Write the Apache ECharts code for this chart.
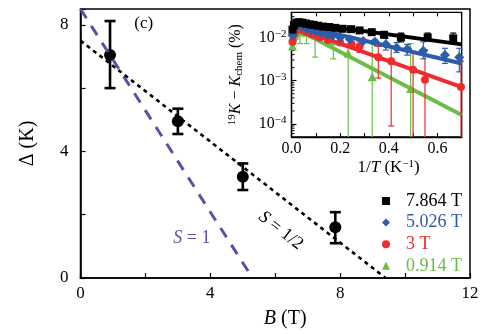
<!DOCTYPE html>
<html>
<head>
<meta charset="utf-8">
<script src="https://cdn.jsdelivr.net/npm/echarts@6/dist/echarts.min.js"></script>
<style>
  html, body { margin: 0; padding: 0; background: #fff; }
  #chart { width: 500px; height: 334px; }
</style>
</head>
<body>
<div id="chart"></div>
<script>
// ---- main panel: gap vs field ----
const fieldB = [0.91, 3.0, 5.0, 7.85];
const gapDelta = [7.05, 4.95, 3.2, 1.6];
const gapLow = [6.0, 4.55, 2.78, 1.1];
const gapHigh = [8.12, 5.35, 3.62, 2.08];
const lineHalf = [[0, 7.5], [9.4, 0]];   // S = 1/2
const lineOne = [[0, 8.5], [5.3, 0]];    // S = 1
const mainXTicks = [0, 4, 8, 12];
const mainYTicks = [0, 4, 8];

// ---- inset: shift vs 1/T (values in %) ----
const invT_78 = [0.004, 0.01, 0.02, 0.03, 0.045, 0.06, 0.075, 0.09, 0.11, 0.13, 0.155, 0.18, 0.21, 0.245, 0.28, 0.33, 0.38, 0.45, 0.56, 0.665];
const K_78 = [0.0151, 0.0191, 0.0219, 0.0224, 0.0219, 0.0209, 0.0200, 0.0195, 0.0186, 0.0178, 0.0174, 0.0166, 0.0158, 0.0155, 0.0145, 0.0132, 0.0115, 0.0100, 0.0100, 0.0095];
const lo_78 = [null, null, null, null, null, null, null, null, null, null, null, null, null, null, null, 0.0120, 0.0105, 0.0079, 0.0087, 0.0078];
const hi_78 = [null, null, null, null, null, null, null, null, null, null, null, null, null, null, null, 0.0145, 0.0126, 0.0126, 0.0126, 0.0126];
const fit_78 = [[0.003, 0.0148], [0.03, 0.0224], [0.7, 0.0069]];

const invT_50 = [0.004, 0.012, 0.02, 0.03, 0.045, 0.062, 0.08, 0.10, 0.12, 0.145, 0.17, 0.20, 0.24, 0.295, 0.343, 0.388, 0.432, 0.476, 0.542, 0.631, 0.69];
const K_50 = [0.0112, 0.0158, 0.0191, 0.0200, 0.0178, 0.0158, 0.0148, 0.0138, 0.0129, 0.0117, 0.0110, 0.0100, 0.0091, 0.0083, 0.0079, 0.0069, 0.0058, 0.0054, 0.0049, 0.0039, 0.0035];
const lo_50 = [null, null, null, null, null, null, null, null, null, null, null, null, null, null, 0.0069, 0.0051, 0.0045, 0.0039, 0.0032, 0.0025, 0.0016];
const hi_50 = [null, null, null, null, null, null, null, null, null, null, null, null, null, null, 0.0089, 0.0095, 0.0076, 0.0069, 0.0079, 0.0056, 0.0056];
const fit_50 = [[0.003, 0.0117], [0.03, 0.0191], [0.7, 0.0025]];

const invT_30 = [0.004, 0.012, 0.02, 0.03, 0.045, 0.06, 0.08, 0.10, 0.117, 0.15, 0.20, 0.247, 0.28, 0.357, 0.41, 0.50, 0.549, 0.697];
const K_30 = [0.0079, 0.0126, 0.0158, 0.0166, 0.0148, 0.0135, 0.0120, 0.0110, 0.0100, 0.0087, 0.0076, 0.0069, 0.0062, 0.0035, 0.0028, 0.0018, 0.00105, 0.00071];
// 0 marks a bar that runs off the bottom of the axis
const lo_30 = [null, null, null, null, null, null, null, null, null, null, null, null, 0.0045, 0.00115, 0.00009, 0, 0, 0];
const hi_30 = [null, null, null, null, null, null, null, null, null, null, null, null, 0.0079, 0.0062, 0.0058, 0.0047, 0.0052, 0.0028];
const fit_30 = [[0.003, 0.0083], [0.03, 0.0158], [0.7, 0.00071]];

const invT_09 = [0.004, 0.012, 0.02, 0.035, 0.062, 0.097, 0.172, 0.233, 0.332, 0.49];
const K_09 = [0.0063, 0.0112, 0.0138, 0.0135, 0.0132, 0.0115, 0.0083, 0.0043, 0.00123, 0.00066];
const lo_09 = [null, null, null, 0.0072, 0.0072, 0.0035, 0.0032, 0, 0, 0];
const hi_09 = [null, null, null, 0.0158, 0.0155, 0.0141, 0.0112, 0.0071, 0.0071, 0.0072];
const fit_09 = [[0.003, 0.0063], [0.035, 0.0141], [0.7, 0.000162]];

const insetXTicks = [0, 0.2, 0.4, 0.6];

const FONT = 'Liberation Serif';
const C_BLACK = '#000000', C_BLUE = '#2c5dab', C_RED = '#ee2b2e', C_GREEN = '#6bbd46', C_PURPLE = '#5753a4';

const chart = echarts.init(document.getElementById('chart'), null, { renderer: 'canvas' });

function zip(xs, ys) { return xs.map((x, i) => [x, ys[i]]); }
function errRows(xs, ys, lo, hi) {
  const rows = [];
  xs.forEach((x, i) => { if (hi[i] != null) rows.push([x, ys[i], lo[i], hi[i]]); });
  return rows;
}

// vertical error bar with caps; a non-positive low end runs to the bottom of the grid without a cap
function errorBarRenderer(color, capHalf, width) {
  return function (params, api) {
    const x = api.value(0), lo = api.value(2), hi = api.value(3);
    const cs = params.coordSys;
    const top = api.coord([x, hi]);
    let bottomY, lowCap = true;
    if (lo > 0) { bottomY = api.coord([x, lo])[1]; }
    else { bottomY = cs.y + cs.height; lowCap = false; }
    const style = { stroke: color, lineWidth: width };
    const kids = [
      { type: 'line', shape: { x1: top[0], y1: top[1], x2: top[0], y2: bottomY }, style },
      { type: 'line', shape: { x1: top[0] - capHalf, y1: top[1], x2: top[0] + capHalf, y2: top[1] }, style }
    ];
    if (lowCap) kids.push({ type: 'line', shape: { x1: top[0] - capHalf, y1: bottomY, x2: top[0] + capHalf, y2: bottomY }, style });
    return { type: 'group', children: kids };
  };
}

// log-decade minor ticks along the inset's left edge
const insetYMin = 5e-5, insetYMax = 0.038;
const minorVals = [];
for (let n = -5; n <= -2; n++) {
  for (let k = 2; k <= 9; k++) {
    const v = k * Math.pow(10, n);
    if (v > insetYMin && v < insetYMax) minorVals.push([0, v]);
  }
}

function insetGroup(name, color, symbol, size, xs, ys, lo, hi, fit, z) {
  return [
    {
      type: 'line', xAxisIndex: 1, yAxisIndex: 1, data: fit, symbol: 'none', z: z,
      lineStyle: { color: color, width: 4 }, silent: true
    },
    {
      type: 'custom', xAxisIndex: 1, yAxisIndex: 1, data: errRows(xs, ys, lo, hi), z: z,
      encode: { x: 0, y: 3 }, renderItem: errorBarRenderer(color, 3, 1.2), silent: true
    },
    {
      type: 'scatter', name: name, xAxisIndex: 1, yAxisIndex: 1, data: zip(xs, ys), z: z,
      symbol: symbol, symbolSize: size, itemStyle: { color: color, opacity: 1 }
    }
  ];
}

const option = {
  animation: false,
  backgroundColor: '#fff',
  textStyle: { fontFamily: FONT },
  grid: [
    { left: 80.5, right: 30, top: 9, bottom: 53, show: true, borderColor: '#000', borderWidth: 1.5, backgroundColor: 'transparent' },
    { left: 291.5, top: 12.3, width: 170.2, height: 124.7, show: true, borderColor: '#000', borderWidth: 1.3, backgroundColor: '#fff' }
  ],
  legend: {
    data: [
      { name: '7.864 T', textStyle: { color: C_BLACK } },
      { name: '5.026 T', textStyle: { color: C_BLUE } },
      { name: '3 T', textStyle: { color: C_RED } },
      { name: '0.914 T', textStyle: { color: C_GREEN } }
    ],
    orient: 'vertical', left: 377, top: 187, itemWidth: 8, itemHeight: 8, itemGap: 3.6,
    textStyle: { fontFamily: FONT, fontSize: 18, padding: [0, 0, 0, 11] },
    selectedMode: false
  },
  xAxis: [
    {
      gridIndex: 0, type: 'value', min: 0, max: 12, interval: 2,
      axisLine: { onZero: false, lineStyle: { color: '#000', width: 1.5 } },
      axisTick: { inside: true, length: 5, lineStyle: { color: '#000', width: 1.2 } },
      axisLabel: {
        color: '#000', fontFamily: FONT, fontSize: 17, margin: 7,
        formatter: v => (mainXTicks.indexOf(v) >= 0 ? String(v) : '')
      },
      splitLine: { show: false },
      name: '{i|B} (T)', nameLocation: 'middle', nameGap: 31,
      nameTextStyle: {
        color: '#000', fontFamily: FONT, fontSize: 20, padding: [0, 0, 0, 20],
        rich: { i: { fontFamily: FONT, fontSize: 20, fontStyle: 'italic', color: '#000' } }
      }
    },
    {
      gridIndex: 1, type: 'value', min: 0, max: 0.7, interval: 0.1,
      axisLine: { onZero: false, lineStyle: { color: '#000', width: 1.3 } },
      axisTick: { inside: true, length: 4, lineStyle: { color: '#000', width: 1.1 } },
      axisLabel: {
        color: '#000', fontFamily: FONT, fontSize: 16, margin: 4,
        formatter: v => {
          const r = Math.round(v * 10) / 10;
          return insetXTicks.some(t => Math.abs(t - r) < 1e-9) ? r.toFixed(1) : '';
        }
      },
      splitLine: { show: false },
      name: '1/{i|T} (K{s|−1})', nameLocation: 'middle', nameGap: 22,
      nameTextStyle: {
        color: '#000', fontFamily: FONT, fontSize: 17, lineHeight: 18, padding: [0, 0, 0, 24],
        rich: {
          i: { fontFamily: FONT, fontSize: 17, fontStyle: 'italic', color: '#000', lineHeight: 18 },
          s: { fontFamily: FONT, fontSize: 11, color: '#000', lineHeight: 9, verticalAlign: 'top' }
        }
      }
    },
    {
      gridIndex: 1, type: 'value', min: 0, max: 0.7, interval: 0.1, position: 'top',
      axisLine: { onZero: false, show: false },
      axisTick: { inside: true, length: 4, lineStyle: { color: '#000', width: 1.1 } },
      axisLabel: { show: false }, splitLine: { show: false }
    }
  ],
  yAxis: [
    {
      gridIndex: 0, type: 'value', min: 0, max: 8.5, interval: 2,
      axisLine: { onZero: false, lineStyle: { color: '#000', width: 1.5 } },
      axisTick: { inside: true, length: 5, lineStyle: { color: '#000', width: 1.2 } },
      axisLabel: {
        color: '#000', fontFamily: FONT, fontSize: 17, margin: 12,
        formatter: v => (mainYTicks.indexOf(v) >= 0 ? String(v) : '')
      },
      splitLine: { show: false },
      name: 'Δ (K)', nameLocation: 'middle', nameGap: 43, nameRotate: 90,
      nameTextStyle: { color: '#000', fontFamily: FONT, fontSize: 20 }
    },
    {
      gridIndex: 1, type: 'log', logBase: 10, min: insetYMin, max: insetYMax,
      axisLine: { onZero: false, lineStyle: { color: '#000', width: 1.3 } },
      axisTick: { inside: true, length: 5, lineStyle: { color: '#000', width: 1.1 } },
      axisLabel: {
        color: '#000', fontFamily: FONT, fontSize: 16, margin: 5,
        showMinLabel: false, showMaxLabel: false,
        formatter: v => {
          const l = Math.log10(v), e = Math.round(l);
          if (Math.abs(l - e) > 1e-6) return '';
          return '{b|10}{s|−' + (-e) + '}';
        },
        rich: {
          b: { fontFamily: FONT, fontSize: 16, color: '#000', lineHeight: 18 },
          s: { fontFamily: FONT, fontSize: 11, color: '#000', lineHeight: 9, verticalAlign: 'top' }
        }
      },
      splitLine: { show: false },
      name: '{s|19}{i|K} − {i|K}{d|chem} (%)', nameLocation: 'middle', nameGap: 47, nameRotate: 90,
      nameTextStyle: {
        color: '#000', fontFamily: FONT, fontSize: 16, lineHeight: 18,
        rich: {
          i: { fontFamily: FONT, fontSize: 16, fontStyle: 'italic', color: '#000', lineHeight: 18 },
          s: { fontFamily: FONT, fontSize: 11, color: '#000', lineHeight: 9, verticalAlign: 'top' },
          d: { fontFamily: FONT, fontSize: 11, color: '#000', lineHeight: 9, verticalAlign: 'bottom' }
        }
      }
    }
  ],
  series: [
    {
      type: 'line', xAxisIndex: 0, yAxisIndex: 0, data: lineOne, symbol: 'none', silent: true,
      lineStyle: { color: C_PURPLE, width: 3, type: [11, 9] }
    },
    {
      type: 'line', xAxisIndex: 0, yAxisIndex: 0, data: lineHalf, symbol: 'none', silent: true,
      lineStyle: { color: '#000', width: 2.6, type: [4, 4] }
    },
    {
      type: 'custom', xAxisIndex: 0, yAxisIndex: 0, silent: true,
      data: fieldB.map((b, i) => [b, gapDelta[i], gapLow[i], gapHigh[i]]),
      encode: { x: 0, y: 3 }, renderItem: errorBarRenderer('#000', 5.5, 2.6)
    },
    {
      type: 'scatter', xAxisIndex: 0, yAxisIndex: 0, data: zip(fieldB, gapDelta),
      symbol: 'circle', symbolSize: 12, itemStyle: { color: '#000', opacity: 1 },
      markPoint: {
        symbol: 'circle', symbolSize: 0, silent: true,
        data: [
          { coord: [1.95, 8.03], label: { show: true, position: 'inside', formatter: '(c)', color: '#000', fontFamily: FONT, fontSize: 17 } },
          {
            coord: [3.43, 1.25],
            label: {
              show: true, position: 'inside', formatter: '{i|S} = 1', color: C_PURPLE, fontFamily: FONT, fontSize: 18,
              rich: { i: { fontStyle: 'italic', color: C_PURPLE, fontFamily: FONT, fontSize: 18 } }
            }
          },
          {
            coord: [6.17, 1.5],
            label: {
              show: true, position: 'inside', rotate: -38, formatter: '{i|S} = 1/2', color: '#000', fontFamily: FONT, fontSize: 18,
              rich: { i: { fontStyle: 'italic', color: '#000', fontFamily: FONT, fontSize: 18 } }
            }
          }
        ]
      }
    },
    {
      type: 'custom', xAxisIndex: 1, yAxisIndex: 1, data: minorVals, silent: true, z: 3,
      encode: { x: 0, y: 1 },
      renderItem: function (params, api) {
        const p = api.coord([0, api.value(1)]);
        return { type: 'line', shape: { x1: p[0], y1: p[1], x2: p[0] + 3, y2: p[1] }, style: { stroke: '#000', lineWidth: 1 } };
      }
    },
    ...insetGroup('0.914 T', C_GREEN, 'triangle', 9, invT_09, K_09, lo_09, hi_09, fit_09, 4),
    ...insetGroup('3 T', C_RED, 'circle', 8, invT_30, K_30, lo_30, hi_30, fit_30, 5),
    ...insetGroup('5.026 T', C_BLUE, 'diamond', 10, invT_50, K_50, lo_50, hi_50, fit_50, 6),
    ...insetGroup('7.864 T', C_BLACK, 'rect', 8, invT_78, K_78, lo_78, hi_78, fit_78, 7)
  ]
};

chart.setOption(option);
</script>
</body>
</html>
